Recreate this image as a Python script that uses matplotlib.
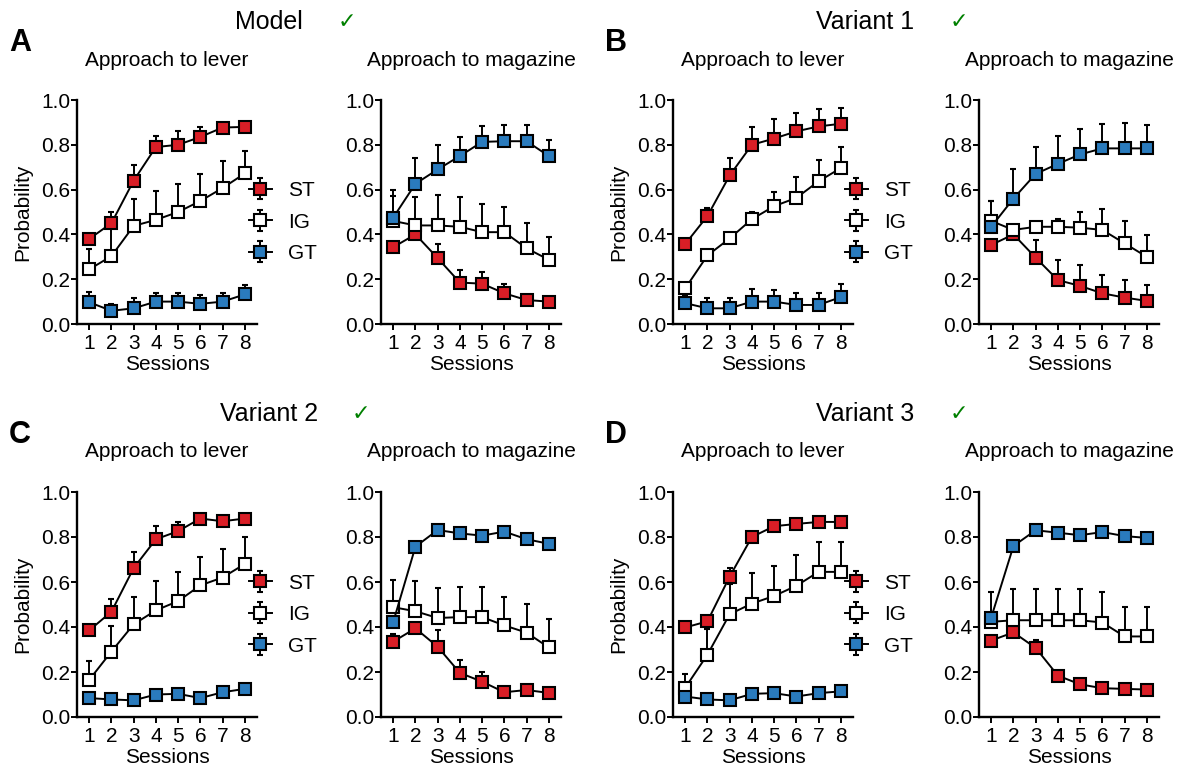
import numpy as np
import matplotlib
matplotlib.use("Agg")
import matplotlib.pyplot as plt

plt.rcParams['font.family'] = ['Liberation Sans', 'DejaVu Sans']

sessions = [1, 2, 3, 4, 5, 6, 7, 8]
groups = ["ST", "IG", "GT"]

# panel A (Model)
a_lever_st = [0.38, 0.45, 0.64, 0.79, 0.80, 0.835, 0.877, 0.88]
a_lever_st_err = [0.02, 0.05, 0.07, 0.05, 0.06, 0.045, 0.015, 0.01]
a_lever_ig = [0.244, 0.303, 0.438, 0.465, 0.50, 0.549, 0.607, 0.672]
a_lever_ig_err = [0.09, 0.14, 0.12, 0.13, 0.125, 0.12, 0.12, 0.10]
a_lever_gt = [0.097, 0.059, 0.07, 0.10, 0.10, 0.09, 0.10, 0.132]
a_lever_gt_err = [0.047, 0.03, 0.045, 0.04, 0.04, 0.04, 0.04, 0.04]
a_mag_st = [0.343, 0.40, 0.294, 0.185, 0.18, 0.137, 0.107, 0.10]
a_mag_st_err = [0.02, 0.02, 0.063, 0.055, 0.052, 0.04, 0.02, 0.01]
a_mag_ig = [0.46, 0.44, 0.44, 0.434, 0.41, 0.41, 0.338, 0.287]
a_mag_ig_err = [0.11, 0.128, 0.135, 0.134, 0.124, 0.114, 0.112, 0.103]
a_mag_gt = [0.475, 0.626, 0.69, 0.75, 0.813, 0.816, 0.816, 0.75]
a_mag_gt_err = [0.125, 0.114, 0.11, 0.085, 0.069, 0.071, 0.071, 0.07]

# panel B (Variant 1)
b_lever_st = [0.357, 0.482, 0.663, 0.80, 0.828, 0.86, 0.882, 0.894]
b_lever_st_err = [0.02, 0.038, 0.077, 0.08, 0.088, 0.083, 0.078, 0.071]
b_lever_ig = [0.159, 0.306, 0.382, 0.468, 0.526, 0.563, 0.637, 0.696]
b_lever_ig_err = [0.02, 0.02, 0.02, 0.032, 0.062, 0.093, 0.095, 0.094]
b_lever_gt = [0.093, 0.07, 0.07, 0.10, 0.10, 0.085, 0.085, 0.12]
b_lever_gt_err = [0.037, 0.045, 0.045, 0.056, 0.05, 0.052, 0.055, 0.058]
b_mag_st = [0.353, 0.40, 0.296, 0.196, 0.17, 0.137, 0.118, 0.103]
b_mag_st_err = [0.02, 0.02, 0.08, 0.088, 0.092, 0.083, 0.08, 0.072]
b_mag_ig = [0.46, 0.42, 0.434, 0.434, 0.43, 0.42, 0.36, 0.30]
b_mag_ig_err = [0.09, 0.02, 0.02, 0.036, 0.07, 0.095, 0.10, 0.097]
b_mag_gt = [0.434, 0.56, 0.67, 0.715, 0.757, 0.784, 0.784, 0.784]
b_mag_gt_err = [0.116, 0.13, 0.12, 0.123, 0.113, 0.11, 0.113, 0.106]

# panel C (Variant 2)
c_lever_st = [0.385, 0.468, 0.662, 0.79, 0.826, 0.882, 0.87, 0.882]
c_lever_st_err = [0.02, 0.058, 0.073, 0.06, 0.042, 0.01, 0.01, 0.01]
c_lever_ig = [0.165, 0.291, 0.412, 0.474, 0.515, 0.585, 0.62, 0.68]
c_lever_ig_err = [0.085, 0.113, 0.12, 0.132, 0.128, 0.124, 0.127, 0.12]
c_lever_gt = [0.084, 0.078, 0.074, 0.10, 0.103, 0.084, 0.11, 0.125]
c_lever_gt_err = [0.02, 0.02, 0.02, 0.02, 0.02, 0.02, 0.02, 0.02]
c_mag_st = [0.335, 0.394, 0.312, 0.196, 0.157, 0.11, 0.12, 0.107]
c_mag_st_err = [0.033, 0.02, 0.075, 0.057, 0.043, 0.01, 0.01, 0.01]
c_mag_ig = [0.488, 0.47, 0.44, 0.444, 0.444, 0.407, 0.375, 0.309]
c_mag_ig_err = [0.122, 0.133, 0.134, 0.134, 0.132, 0.128, 0.129, 0.125]
c_mag_gt = [0.422, 0.757, 0.831, 0.816, 0.806, 0.824, 0.79, 0.77]
c_mag_gt_err = [0.02, 0.02, 0.02, 0.02, 0.02, 0.02, 0.02, 0.02]

# panel D (Variant 3)
d_lever_st = [0.398, 0.425, 0.624, 0.80, 0.848, 0.858, 0.867, 0.867]
d_lever_st_err = [0.01, 0.015, 0.04, 0.01, 0.01, 0.01, 0.01, 0.01]
d_lever_ig = [0.13, 0.277, 0.457, 0.504, 0.538, 0.583, 0.645, 0.645]
d_lever_ig_err = [0.06, 0.113, 0.133, 0.136, 0.132, 0.135, 0.134, 0.134]
d_lever_gt = [0.091, 0.078, 0.074, 0.103, 0.106, 0.091, 0.106, 0.114]
d_lever_gt_err = [0.02, 0.02, 0.02, 0.02, 0.02, 0.02, 0.02, 0.02]
d_mag_st = [0.34, 0.376, 0.307, 0.184, 0.145, 0.128, 0.125, 0.122]
d_mag_st_err = [0.01, 0.01, 0.035, 0.01, 0.01, 0.01, 0.01, 0.01]
d_mag_ig = [0.423, 0.43, 0.43, 0.43, 0.43, 0.42, 0.358, 0.358]
d_mag_ig_err = [0.134, 0.137, 0.137, 0.137, 0.137, 0.136, 0.132, 0.132]
d_mag_gt = [0.442, 0.76, 0.83, 0.819, 0.808, 0.822, 0.804, 0.796]
d_mag_gt_err = [0.02, 0.02, 0.02, 0.02, 0.02, 0.02, 0.02, 0.02]

panel_letters = ["A", "B", "C", "D"]
panel_titles = ["Model", "Variant 1", "Variant 2", "Variant 3"]
sub_titles = ["Approach to lever", "Approach to magazine"]
ytick_vals = [0.0, 0.2, 0.4, 0.6, 0.8, 1.0]

lever_data = [
    [(a_lever_st, a_lever_st_err), (a_lever_ig, a_lever_ig_err), (a_lever_gt, a_lever_gt_err)],
    [(b_lever_st, b_lever_st_err), (b_lever_ig, b_lever_ig_err), (b_lever_gt, b_lever_gt_err)],
    [(c_lever_st, c_lever_st_err), (c_lever_ig, c_lever_ig_err), (c_lever_gt, c_lever_gt_err)],
    [(d_lever_st, d_lever_st_err), (d_lever_ig, d_lever_ig_err), (d_lever_gt, d_lever_gt_err)],
]
mag_data = [
    [(a_mag_st, a_mag_st_err), (a_mag_ig, a_mag_ig_err), (a_mag_gt, a_mag_gt_err)],
    [(b_mag_st, b_mag_st_err), (b_mag_ig, b_mag_ig_err), (b_mag_gt, b_mag_gt_err)],
    [(c_mag_st, c_mag_st_err), (c_mag_ig, c_mag_ig_err), (c_mag_gt, c_mag_gt_err)],
    [(d_mag_st, d_mag_st_err), (d_mag_ig, d_mag_ig_err), (d_mag_gt, d_mag_gt_err)],
]

colors = {"ST": "#d91e26", "IG": "white", "GT": "#2a7bbd"}

W, H = 1191, 771
fig = plt.figure(figsize=(W / 100, H / 100), dpi=100)


def fx(x):
    return x / W


def fy(y):
    return 1 - y / H


# panel geometry in pixels: (left x of lever axes, left x of magazine axes), (top y, bottom y)
col_x = [(77, 381), (673, 979)]
row_y = [(100, 324), (492, 717)]
ax_w = 180


def draw(ax, series, with_legend):
    handles = []
    for name, (vals, err) in zip(groups, series):
        eb = ax.errorbar(sessions, vals, yerr=[np.zeros(len(err)), err],
                         color="black", lw=1.4, marker="s", ms=9,
                         mfc=colors[name], mec="black", mew=1.5,
                         ecolor="black", elinewidth=1.4, capsize=2.5,
                         capthick=1.4, label=name, clip_on=False)
        handles.append(eb)
    ax.set_xlim(0.45, 8.55)
    ax.set_ylim(0, 1.0)
    ax.set_xticks(sessions)
    ax.set_yticks(ytick_vals)
    ax.set_yticklabels([f"{v:.1f}" for v in ytick_vals])
    for s in ["top", "right"]:
        ax.spines[s].set_visible(False)
    for s in ["left", "bottom"]:
        ax.spines[s].set_linewidth(1.7)
    ax.tick_params(axis="both", labelsize=15, width=1.4, length=4)
    ax.tick_params(axis="y", pad=1)
    ax.tick_params(axis="x", pad=3)
    ax.text(0.5, -0.18, "Sessions", transform=ax.transAxes, ha="center",
            va="center", fontsize=15)
    if with_legend:
        ax.legend(handles=handles, loc="center left",
                  bbox_to_anchor=(0.955, 0.455), frameon=False,
                  fontsize=15, handlelength=1.1, handletextpad=0.8,
                  labelspacing=0.6, borderpad=0, borderaxespad=0)


for k in range(4):
    r, c = divmod(k, 2)
    top, bot = row_y[r]
    for j, x0 in enumerate(col_x[c]):
        ax = fig.add_axes([fx(x0), fy(bot), ax_w / W, (bot - top) / H])
        data = lever_data[k] if j == 0 else mag_data[k]
        draw(ax, data, with_legend=(j == 0))
        ax.text(0.5, 1 + 40 / (bot - top), sub_titles[j], transform=ax.transAxes,
                ha="center", va="center", fontsize=15)
        if j == 0:
            ax.text(-54 / ax_w, 0.5, "Probability", transform=ax.transAxes,
                    rotation=90, ha="center", va="center", fontsize=15)

    xoff = 0 if c == 0 else 596
    yoff = 0 if r == 0 else 392
    fig.text(fx(20 + xoff), fy(43 + yoff), panel_letters[k], fontsize=22,
             fontweight="bold", ha="center", va="center")
    fig.text(fx(269 + xoff), fy(22 + yoff), panel_titles[k], fontsize=18,
             ha="center", va="center")
    check_x = [347, 959, 361, 959][k]
    fig.text(fx(check_x), fy(22 + yoff), "\u2713", fontsize=16, color="green",
             ha="center", va="center", family="DejaVu Sans")

fig.savefig("out.png", dpi=100, facecolor="white")
